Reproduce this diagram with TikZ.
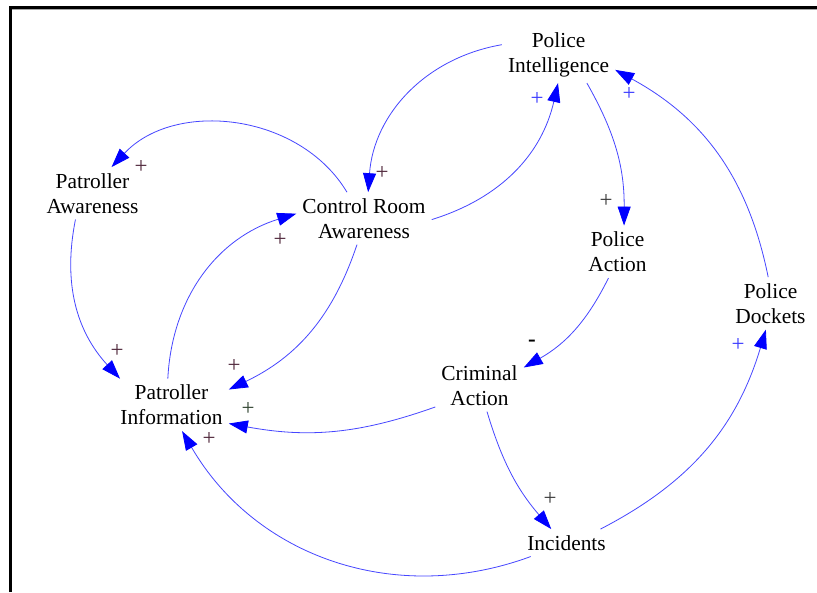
\documentclass[tikz,border=0pt]{standalone}
\usepackage{fontspec}
\setmainfont{Liberation Serif}
\usetikzlibrary{arrows.meta}
\definecolor{linkblue}{RGB}{70,70,255}
\definecolor{headblue}{RGB}{0,0,255}
\definecolor{polmaroon}{RGB}{80,40,60}
\definecolor{polblue}{RGB}{60,60,255}
\definecolor{polgreen}{RGB}{50,70,50}
\definecolor{polgray}{RGB}{60,60,60}
\begin{document}
\begin{tikzpicture}[x=1pt,y=1pt,
  var/.style={align=center, inner sep=6pt, font=\fontsize{21.4}{25}\selectfont},
  link/.style={draw=linkblue, line width=0.8pt,
    -{Triangle[length=19pt,width=13pt,color=headblue]}},
  pol/.style={inner sep=0pt, font=\fontsize{23}{23}\selectfont, text=polmaroon},
  polb/.style={pol, text=polblue}]
\useasboundingbox (0,-592) rectangle (817,0);
\fill[white] (0,-592) rectangle (817,0);

% frame along the top and left edges
\draw[black!35, line width=1pt] (12,-9.8) -- (817,-9.8);
\draw[line width=3pt] (10.5,-592) -- (10.5,-7.5) -- (817,-7.5);

% variables
\node[var] (pi)  at (558.5,-54.7)  {Police\\Intelligence};
\node[var] (paw) at (92.5,-193.3)  {Patroller\\Awareness};
\node[var] (cra) at (364,-218.4)   {Control Room\\Awareness};
\node[var] (pa)  at (617.5,-251.8) {Police\\Action};
\node[var] (pd)  at (770.5,-303.4) {Police\\Dockets};
\node[var] (pin) at (171.5,-404.9) {Patroller\\Information};
\node[var] (ca)  at (479.5,-385.4) {Criminal\\Action};
\node[var] (inc) at (566.5,-542.8) {Incidents};

% causal links
\draw[link] (pi.170)  to[bend right=38] (cra.81);
\draw[link] (cra.-1)  to[bend right=30] (pi.-91);
\draw[link] (cra.123) to[bend right=53] (paw.54);
\draw[link] (paw.-123) to[bend right=27] (pin.153);
\draw[link] (pin.98)  to[bend left=35]  (cra.176);
\draw[link] (cra.-105) to[bend left=23] (pin.15);
\draw[link] (ca.206)  to[bend left=15]  (pin.-18);
\draw[link] (inc.201) to[bend left=40]  (pin.-68);
\draw[link] (ca.-74)  to[bend right=12] (inc.138);
\draw[link] (inc.22)  to[bend right=23] (pd.-100);
\draw[link] (pd.95)   to[bend right=25] (pi.-15);
\draw[link] (pi.-45)  to[bend left=15]  (pa.76);
\draw[link] (pa.-109) to[bend left=17]  (ca.22);

% link polarities
\node[pol] (s1) at (382,-173) {+};
\node[polb] (s2) at (537,-99) {+};
\node[pol] (s3) at (141,-167) {+};
\node[pol] (s4) at (117,-351) {+};
\node[pol] (s5) at (280,-240) {+};
\node[pol] (s6) at (234,-366) {+};
\node[pol, text=polgreen] (s7) at (248,-409) {+};
\node[pol] (s8) at (209,-439) {+};
\node[pol, text=polgray] (s9) at (550,-499) {+};
\node[polb] (s10) at (738,-345) {+};
\node[polb] (s11) at (629,-94) {+};
\node[pol, text=polgray] (s12) at (606,-201) {+};
\node[pol, text=black] (s13) at (532,-343) {\textbf{-}};
\end{tikzpicture}
\end{document}
